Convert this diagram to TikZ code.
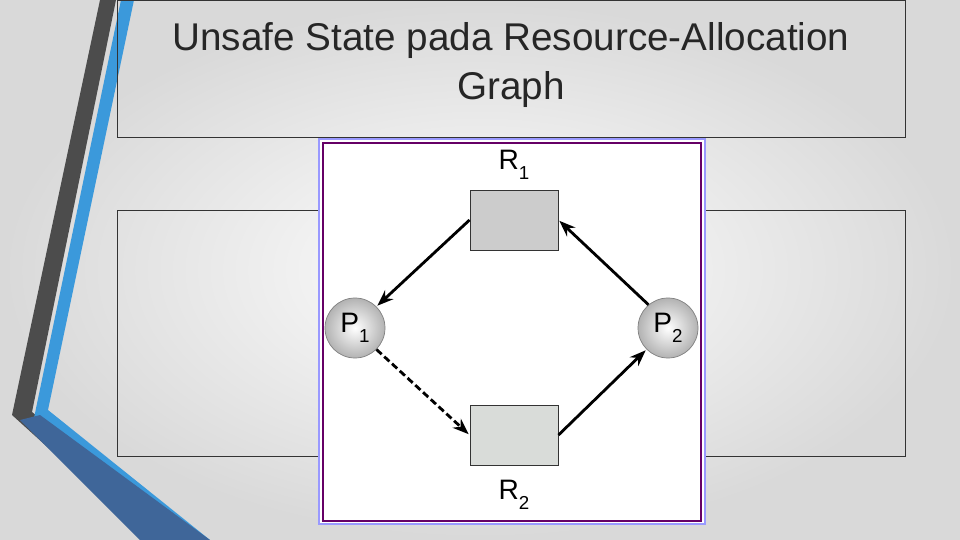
\documentclass[tikz,border=0pt]{standalone}
\usepackage{fontspec}
\setmainfont{Liberation Sans}
\usetikzlibrary{positioning,arrows.meta,shadings}
\tikzset{>=Stealth}
\tikzset{
  resbox/.style={draw=black!80,line width=0.8pt,minimum width=2.64cm,minimum height=1.8cm,inner sep=0pt},
  procnode/.style={circle,draw=black!50,line width=0.6pt,minimum size=1.8cm,inner sep=0pt,
    inner color=white,outer color=black!30,font=\fontsize{24}{24}\selectfont},
  edge/.style={->,line width=2.4pt,shorten >=1pt}
}
\newcommand{\lbl}[2]{#1\raisebox{-0.35em}{\fontsize{16}{16}\selectfont #2}}
\begin{document}
\begin{tikzpicture}[x=0.03cm,y=-0.03cm]
\useasboundingbox (0,0) rectangle (960,540);
% background
\shade[inner color=white,outer color=black!15] (0,0) rectangle (960,540);
% left stripes
\fill[black!70] (100,0) -- (116,0) -- (32,412) -- (190,540) -- (150,540) -- (12,415) -- cycle;
\fill[cyan!70!blue!80] (121,0) -- (134,0) -- (48,410) -- (210,540) -- (180,540) -- (34,418) -- cycle;
\fill[cyan!50!blue!70!black] (40,415) -- (210,540) -- (140,540) -- (20,420) -- cycle;
% boxes
\draw[black!80] (117,0) rectangle (905,137);
\draw[black!80] (117,210) rectangle (905,456);
\node[align=center,font=\fontsize{33}{42}\selectfont,text=black!85] (title) at (511,65)
  {Unsafe State pada Resource-Allocation\\Graph};
% figure frame
\fill[white] (318,138) rectangle (706,525);
\draw[blue!40,line width=1pt] (319,139) rectangle (705,524);
\draw[violet!80!black,line width=2pt] (323,143) rectangle (701,521);
% graph
\node[resbox,fill=black!20] (r1) at (514,220) {};
\node[resbox,fill=green!8!black!15] (r2) at (514,435) {};
\node[procnode] (p1) at (355,328) {\lbl{P}{1}};
\node[procnode] (p2) at (668,328) {\lbl{P}{2}};
\node[font=\fontsize{24}{24}\selectfont] (l1) at (514,165) {\lbl{R}{1}};
\node[font=\fontsize{24}{24}\selectfont] (l2) at (514,495) {\lbl{R}{2}};
\draw[edge] (r1.west) -- (p1.45);
\draw[edge] (p2.130) -- (r1.east);
\draw[edge,dash pattern=on 6pt off 3pt] (p1.-45) -- (r2.west);
\draw[edge] (r2.east) -- (p2.-135);
\end{tikzpicture}
\end{document}
